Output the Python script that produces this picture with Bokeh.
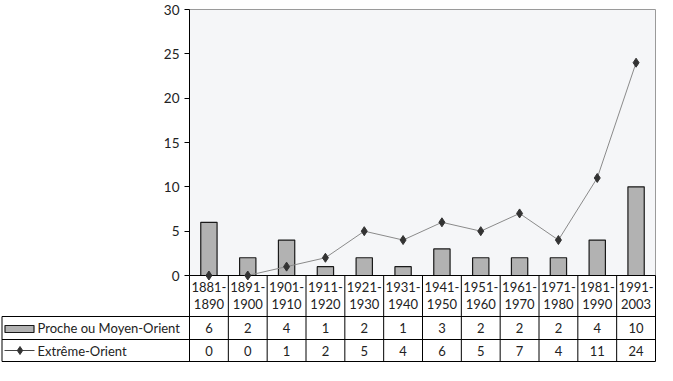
from bokeh.plotting import figure
from bokeh.models import Range1d, FixedTicker, LinearAxis
from bokeh.core.properties import value
from bokeh.embed import file_html
from bokeh.resources import INLINE

periods = ["1881-1890", "1891-1900", "1901-1910", "1911-1920", "1921-1930", "1931-1940",
           "1941-1950", "1951-1960", "1961-1970", "1971-1980", "1981-1990", "1991-2003"]
proche = [6, 2, 4, 1, 2, 1, 3, 2, 2, 2, 4, 10]
extreme = [0, 0, 1, 2, 5, 4, 6, 5, 7, 4, 11, 24]
series_names = ["Proche ou Moyen-Orient", "Extrême-Orient"]
y_ticks = [0, 5, 10, 15, 20, 25, 30]
y_max = 30

W = 657
H = 364
LEFT = 189      # px where the chart area starts
RIGHT = 2
TOP = 9
CH = 266        # chart area height in px
n = len(periods)
FW = W - LEFT - RIGHT
xs = [i + 0.5 for i in range(n)]

ux = n / FW          # data units per px (x)
uy = y_max / CH      # data units per px (y)


def px2x(px):
    return (px - LEFT) * ux


def below(px):
    """y coordinate px pixels below the chart's zero line"""
    return -px * uy


FONT = "Lato"
TXT = "#222222"
BAR_FILL = "#b2b2b2"
BAR_LINE = "#1a1a1a"
LINE_COL = "#8a8a8a"
MARK_COL = "#333333"

p = figure(width=W, height=H,
           x_range=Range1d(px2x(0), px2x(W)),
           y_range=Range1d(-(H - TOP - CH) * uy, y_max + TOP * uy),
           output_backend="svg", toolbar_location=None,
           x_axis_location=None, y_axis_location=None, min_border=0)
p.outline_line_color = None
p.background_fill_color = "white"
p.border_fill_color = "white"
p.xgrid.visible = False
p.ygrid.visible = False

# chart area background and its top/right border
p.quad(left=[0], right=[n], bottom=[0], top=[y_max], fill_color="#f5f6f8", line_color=None)
p.segment(x0=[0, n], y0=[y_max, 0], x1=[n, n], y1=[y_max, y_max], line_color="#9a9a9a",
          line_width=1)

# y axis
ax = LinearAxis(fixed_location=0, bounds=(0, y_max), ticker=FixedTicker(ticks=y_ticks))
ax.major_tick_out = 5
ax.major_tick_in = 0
ax.minor_tick_out = 0
ax.minor_tick_in = 0
ax.axis_line_color = "black"
ax.major_tick_line_color = "black"
ax.major_label_standoff = 5
ax.major_label_text_font = FONT
ax.major_label_text_font_size = "13.5px"
ax.major_label_text_color = TXT
p.add_layout(ax, "left")

# data
p.vbar(x=xs, top=proche, bottom=0, width=0.42, fill_color=BAR_FILL,
       line_color=BAR_LINE, line_width=1.2)
p.line(xs, extreme, line_color=LINE_COL, line_width=1)

# table
R0, R1, R2, R3 = 0, below(41), below(64), below(86)
left_edge = px2x(1.5)
p.segment(x0=list(range(n + 1)), y0=[R0] * (n + 1), x1=list(range(n + 1)), y1=[R3] * (n + 1),
          line_color="black", line_width=1)
p.segment(x0=[0, left_edge, left_edge, left_edge], y0=[R0, R1, R2, R3],
          x1=[n, n, n, n], y1=[R0, R1, R2, R3], line_color="black", line_width=1.1)
p.segment(x0=[left_edge], y0=[R1], x1=[left_edge], y1=[R3], line_color="black", line_width=1)

p.scatter(xs, extreme, marker="diamond", size=9, fill_color=MARK_COL, line_color=MARK_COL)

line1 = [s.split("-")[0] + "-" for s in periods]
line2 = [s.split("-")[1] for s in periods]
common = dict(text_font=value(FONT), text_color=TXT, text_align="center", text_baseline="middle")
p.text(x=xs, y=[below(11.5)] * n, text=line1, text_font_size="13px", **common)
p.text(x=xs, y=[below(28.5)] * n, text=line2, text_font_size="13px", **common)
p.text(x=xs, y=[(R1 + R2) / 2] * n, text=[str(v) for v in proche], text_font_size="13px", **common)
p.text(x=xs, y=[(R2 + R3) / 2] * n, text=[str(v) for v in extreme], text_font_size="13px", **common)

# legend cells
p.quad(left=[px2x(4.5)], right=[px2x(33.5)], top=[R1 + below(9)], bottom=[R1 + below(16)],
       fill_color=BAR_FILL, line_color=BAR_LINE, line_width=1.2)
ly = (R2 + R3) / 2
p.segment(x0=[px2x(4)], y0=[ly], x1=[px2x(34)], y1=[ly], line_color="#444444", line_width=1)
p.scatter([px2x(19.5)], [ly], marker="diamond", size=8, fill_color=MARK_COL, line_color=MARK_COL)
p.text(x=[px2x(37), px2x(37)], y=[(R1 + R2) / 2, ly], text=series_names,
       text_font=value(FONT), text_color=TXT, text_align="left", text_baseline="middle",
       text_font_size="13px")

open("out.html", "w").write(file_html(p, INLINE))
